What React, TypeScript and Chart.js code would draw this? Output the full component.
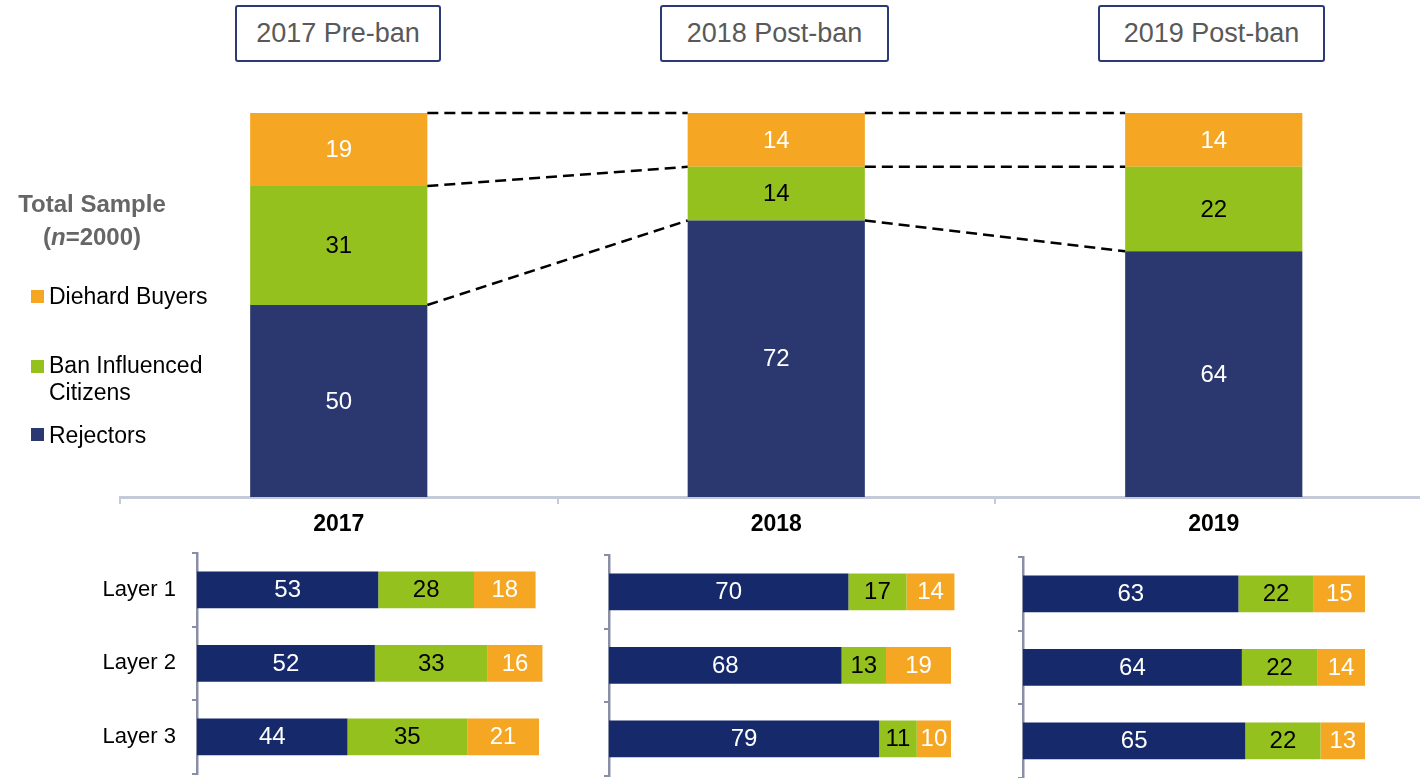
import React, { useEffect, useRef } from "react";
import { Chart, registerables } from "chart.js";

Chart.register(...registerables);

const FONT = '"Liberation Sans", Arial, sans-serif';
Chart.defaults.font.family = FONT;

// ---- Data ----
const years = ["2017", "2018", "2019"];
const boxTitles = ["2017 Pre-ban", "2018 Post-ban", "2019 Post-ban"];
const seriesNames = ["Rejectors", "Ban Influenced Citizens", "Diehard Buyers"];

const totalRejectors = [50, 72, 64];
const totalBanInfluenced = [31, 14, 22];
const totalDiehard = [19, 14, 14];

const layers = ["Layer 1", "Layer 2", "Layer 3"];
const rejectors2017 = [53, 52, 44];
const banInfluenced2017 = [28, 33, 35];
const diehard2017 = [18, 16, 21];
const rejectors2018 = [70, 68, 79];
const banInfluenced2018 = [17, 13, 11];
const diehard2018 = [14, 19, 10];
const rejectors2019 = [63, 64, 65];
const banInfluenced2019 = [22, 22, 22];
const diehard2019 = [15, 14, 13];

// ---- Colours ----
const NAVY_MAIN = "#2b3870";
const NAVY_SMALL = "#16296b";
const GREEN = "#95c11f";
const ORANGE = "#f5a623";
const LABEL_COLORS = ["#ffffff", "#000000", "#ffffff"];

const segLabelsPlugin = {
  id: "segLabels",
  afterDatasetsDraw(chart: any, _args: any, opts: any) {
    const ctx = chart.ctx;
    ctx.save();
    ctx.font = `${opts.size || 24}px ${FONT}`;
    ctx.textAlign = "center";
    ctx.textBaseline = "middle";
    chart.data.datasets.forEach((ds: any, di: number) => {
      const meta = chart.getDatasetMeta(di);
      meta.data.forEach((el: any, i: number) => {
        const p = el.getCenterPoint();
        ctx.fillStyle = LABEL_COLORS[di];
        ctx.fillText(String(ds.data[i]), p.x, p.y + 1);
      });
    });
    ctx.restore();
  },
};

const connectorPlugin = {
  id: "connectors",
  afterDatasetsDraw(chart: any) {
    const ctx = chart.ctx;
    const metas = chart.data.datasets.map((_: any, i: number) => chart.getDatasetMeta(i));
    const n = chart.data.labels.length;
    ctx.save();
    ctx.setLineDash([11, 6]);
    ctx.lineWidth = 2.5;
    ctx.strokeStyle = "#000";
    for (let i = 0; i < n - 1; i++) {
      metas.forEach((meta: any) => {
        const a = meta.data[i];
        const b = meta.data[i + 1];
        ctx.beginPath();
        ctx.moveTo(a.x + a.width / 2, a.y);
        ctx.lineTo(b.x - b.width / 2, b.y);
        ctx.stroke();
      });
    }
    ctx.restore();
  },
};

function MainChart() {
  const ref = useRef<HTMLCanvasElement>(null);
  useEffect(() => {
    const chart = new Chart(ref.current as HTMLCanvasElement, {
      type: "bar",
      data: {
        labels: years,
        datasets: [
          { label: seriesNames[0], data: totalRejectors, backgroundColor: NAVY_MAIN },
          { label: seriesNames[1], data: totalBanInfluenced, backgroundColor: GREEN },
          { label: seriesNames[2], data: totalDiehard, backgroundColor: ORANGE },
        ],
      },
      options: {
        animation: false,
        responsive: false,
        maintainAspectRatio: false,
        layout: { padding: { left: 120, top: 113, right: 7.5, bottom: 0 } },
        datasets: { bar: { categoryPercentage: 1, barPercentage: 0.405 } } as any,
        plugins: {
          legend: { display: false },
          tooltip: { enabled: false },
          segLabels: { size: 24 },
        } as any,
        scales: {
          x: {
            stacked: true,
            grid: {
              display: true,
              drawOnChartArea: false,
              drawTicks: true,
              tickLength: 7,
              color: "#c5cad8",
              lineWidth: 2,
              offset: true,
            },
            border: { display: true, color: "#c5cad8", width: 3 },
            ticks: {
              font: { size: 23, weight: "bold", family: FONT },
              color: "#000",
              padding: 7,
            },
            afterFit: (s: any) => {
              s.height = 63;
            },
          } as any,
          y: { stacked: true, display: false, min: 0, max: 100 },
        },
      },
      plugins: [connectorPlugin, segLabelsPlugin],
    });
    return () => chart.destroy();
  }, []);
  return (
    <canvas
      ref={ref}
      width={1440}
      height={560}
      style={{ position: "absolute", left: 0, top: 0, width: 1440, height: 560 }}
    />
  );
}

function SmallChart(props: {
  rej: number[];
  ban: number[];
  die: number[];
  showLabels: boolean;
  left: number;
  top: number;
  axisWidth: number;
}) {
  const ref = useRef<HTMLCanvasElement>(null);
  const width = props.axisWidth + 342 + 20;
  useEffect(() => {
    const chart = new Chart(ref.current as HTMLCanvasElement, {
      type: "bar",
      data: {
        labels: layers,
        datasets: [
          { label: seriesNames[0], data: props.rej, backgroundColor: NAVY_SMALL, clip: false } as any,
          { label: seriesNames[1], data: props.ban, backgroundColor: GREEN, clip: false } as any,
          { label: seriesNames[2], data: props.die, backgroundColor: ORANGE, clip: false } as any,
        ],
      },
      options: {
        indexAxis: "y",
        animation: false,
        responsive: false,
        maintainAspectRatio: false,
        layout: { autoPadding: false, padding: { left: 0, top: 13, right: 20, bottom: 4.5 } } as any,
        datasets: { bar: { categoryPercentage: 1, barPercentage: 0.5 } } as any,
        plugins: {
          legend: { display: false },
          tooltip: { enabled: false },
          segLabels: { size: 24 },
        } as any,
        scales: {
          x: { stacked: true, display: false, min: 0, max: 100 },
          y: {
            stacked: true,
            grid: {
              display: true,
              drawOnChartArea: false,
              drawTicks: true,
              tickLength: 5,
              color: "#8a8fa8",
              lineWidth: 2,
              offset: true,
            },
            border: { display: true, color: "#8a8fa8", width: 2.5 },
            ticks: {
              display: props.showLabels,
              font: { size: 22, family: FONT },
              color: "#000",
              padding: 16,
            },
            afterFit: (s: any) => {
              s.width = props.axisWidth;
              s.paddingTop = 0;
              s.paddingBottom = 0;
              s.paddingLeft = 0;
              s.paddingRight = 0;
            },
          } as any,
        },
      },
      plugins: [segLabelsPlugin],
    });
    return () => chart.destroy();
  }, []);
  return (
    <canvas
      ref={ref}
      width={width}
      height={238}
      style={{ position: "absolute", left: props.left, top: props.top, width, height: 238 }}
    />
  );
}

const boxLefts = [235, 660, 1098];
const boxWidths = [206, 229, 227];

export default function App() {
  useEffect(() => {
    document.body.style.margin = "0";
    document.body.style.overflow = "hidden";
  }, []);

  const legendItems = [
    { color: ORANGE, lines: ["Diehard Buyers"], top: 282.5, sq: 290 },
    { color: GREEN, lines: ["Ban Influenced", "Citizens"], top: 351.5, sq: 360 },
    { color: NAVY_MAIN, lines: ["Rejectors"], top: 421.5, sq: 428 },
  ];

  return (
    <div
      style={{
        position: "absolute",
        left: 0,
        top: 0,
        width: 1420,
        height: 778,
        overflow: "hidden",
        background: "#fff",
        fontFamily: FONT,
      }}
    >
      <MainChart />
      <SmallChart rej={rejectors2017} ban={banInfluenced2017} die={diehard2017} showLabels={true} left={0} top={540} axisWidth={197} />
      <SmallChart rej={rejectors2018} ban={banInfluenced2018} die={diehard2018} showLabels={false} left={599} top={542} axisWidth={10} />
      <SmallChart rej={rejectors2019} ban={banInfluenced2019} die={diehard2019} showLabels={false} left={1013} top={544} axisWidth={10} />

      {boxTitles.map((t, i) => (
        <div
          key={t}
          style={{
            position: "absolute",
            left: boxLefts[i],
            top: 5,
            width: boxWidths[i],
            height: 57,
            boxSizing: "border-box",
            border: "2.5px solid #2b3a72",
            borderRadius: 3,
            display: "flex",
            alignItems: "center",
            justifyContent: "center",
            fontSize: 27,
            color: "#595959",
            background: "#fff",
          }}
        >
          {t}
        </div>
      ))}

      <div
        style={{
          position: "absolute",
          left: 16,
          top: 190,
          width: 152,
          textAlign: "center",
          fontSize: 24,
          lineHeight: "28px",
          fontWeight: "bold",
          color: "#666",
          whiteSpace: "nowrap",
        }}
      >
        <div>Total Sample</div>
        <div style={{ marginTop: 5 }}>
          (<i>n</i>=2000)
        </div>
      </div>

      {legendItems.map((it) => (
        <React.Fragment key={it.lines[0]}>
          <div
            style={{
              position: "absolute",
              left: 31,
              top: it.sq,
              width: 13,
              height: 13,
              background: it.color,
            }}
          />
          <div
            style={{
              position: "absolute",
              left: 49,
              top: it.top,
              fontSize: 23,
              lineHeight: "27px",
              color: "#000",
              whiteSpace: "nowrap",
            }}
          >
            {it.lines.map((l) => (
              <div key={l}>{l}</div>
            ))}
          </div>
        </React.Fragment>
      ))}
    </div>
  );
}
